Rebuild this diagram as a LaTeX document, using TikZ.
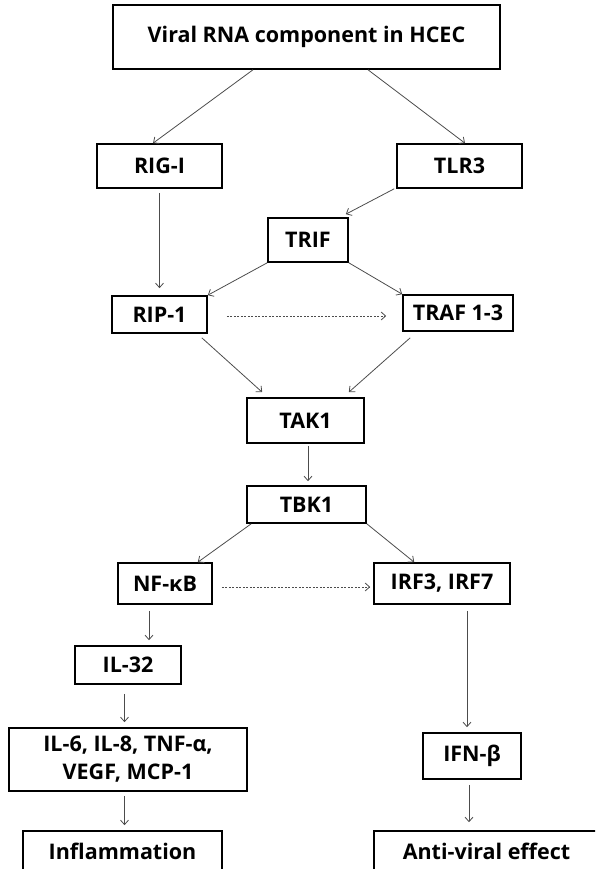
\documentclass[tikz,border=0pt]{standalone}
\usepackage{fontspec}
\setmainfont{Open Sans}
\usepackage{tikz}
\usetikzlibrary{arrows.meta}

\begin{document}
\begin{tikzpicture}[x=1pt, y=-1pt]

\tikzstyle{block} = [rectangle, draw=black, line width=1.6pt, text centered, inner sep=0pt, font=\fontsize{21.5}{28}\selectfont\bfseries]
\tikzstyle{arrow} = [draw=black!70, line width=0.8pt, -{Straight Barb[length=4.5pt, width=8pt]}]
\tikzstyle{dasharrow} = [arrow, dash pattern=on 2pt off 1.5pt]

\clip (0,0) rectangle (595,869);
\useasboundingbox (0,0) rectangle (595,869);

\node (viral) [block, minimum width=387pt, minimum height=64pt] at (306.5,37) {Viral RNA component in HCEC};
\node (rigi) [block, minimum width=125pt, minimum height=44pt] at (159.5,166) {RIG-I};
\node (tlr3) [block, minimum width=125pt, minimum height=44pt] at (459.5,166) {TLR3};
\node (trif) [block, minimum width=80pt, minimum height=44pt] at (308,240) {TRIF};
\node (rip1) [block, minimum width=95pt, minimum height=37pt] at (159.5,314.5) {RIP-1};
\node (traf) [block, minimum width=110pt, minimum height=36pt] at (458,313) {TRAF 1-3};
\node (tak1) [block, minimum width=117pt, minimum height=45pt] at (305.5,420.5) {TAK1};
\node (tbk1) [block, minimum width=119pt, minimum height=37pt] at (306.5,504.5) {TBK1};
\node (nfkb) [block, minimum width=94pt, minimum height=41pt] at (165,583.5) {NF-κB};
\node (irf) [block, minimum width=136pt, minimum height=41pt] at (442,583.5) {IRF3, IRF7};
\node (il32) [block, minimum width=106pt, minimum height=38pt] at (128,665) {IL-32};
\node (cyto) [block, minimum width=238pt, minimum height=63pt, align=center] at (128,759.5) {IL-6, IL-8, TNF-α,\\VEGF, MCP-1};
\node (ifnb) [block, minimum width=98pt, minimum height=46pt] at (472,756) {IFN-β};
\node (infl) [block, minimum width=199pt, minimum height=40pt] at (122.5,851) {Inflammation};
\node (antiv) [block, minimum width=225pt, minimum height=40pt] at (486.5,851) {Anti-viral effect};

\draw [arrow] ([xshift=-53.5pt]viral.south) -- ([xshift=-6.5pt]rigi.north);
\draw [arrow] ([xshift=61.5pt]viral.south) -- ([xshift=5.5pt]tlr3.north);
\draw [arrow, shorten <=4pt, shorten >=7pt] (rigi.south) -- (rip1.north);
\draw [arrow] ([xshift=-2pt]tlr3.south west) -- ([xshift=-3pt, yshift=3pt]trif.north east);
\draw [arrow] (trif.south west) -- (rip1.north east);
\draw [arrow] (trif.south east) -- (traf.north west);
\draw [dasharrow, shorten <=19pt, shorten >=16pt] ([yshift=-1.5pt]rip1.east) -- ([yshift=-3pt]traf.west);
\draw [arrow] ([xshift=-6pt, yshift=-4pt]rip1.south east) -- ([xshift=16pt, yshift=5pt]tak1.north west);
\draw [arrow] ([xshift=8pt, yshift=-6pt]traf.south west) -- ([xshift=-16pt, yshift=5pt]tak1.north east);
\draw [arrow, shorten <=2pt, shorten >=4pt] ([xshift=2.5pt]tak1.south) -- ([xshift=1.5pt]tbk1.north);
\draw [arrow] ([xshift=5pt]tbk1.south west) -- ([xshift=-15pt]nfkb.north east);
\draw [arrow] (tbk1.south east) -- ([xshift=41pt]irf.north west);
\draw [dasharrow, shorten <=9pt, shorten >=3pt] ([yshift=-3.5pt]nfkb.east) -- ([yshift=-3.5pt]irf.west);
\draw [arrow, shorten <=6pt, shorten >=5pt] ([xshift=-16pt]nfkb.south) -- ([xshift=21pt]il32.north);
\draw [arrow, shorten <=9pt, shorten >=5pt] ([xshift=-3.5pt]il32.south) -- ([xshift=-3.5pt]cyto.north);
\draw [arrow, shorten <=4pt, shorten >=5pt] ([xshift=-3.5pt]cyto.south) -- ([xshift=2pt]infl.north);
\draw [arrow, shorten <=6pt, shorten >=5pt] ([xshift=25pt]irf.south) -- ([xshift=-5pt]ifnb.north);
\draw [arrow, shorten <=5pt, shorten >=8pt] ([xshift=-3pt]ifnb.south) -- ([xshift=-17.5pt]antiv.north);

\end{tikzpicture}
\end{document}
